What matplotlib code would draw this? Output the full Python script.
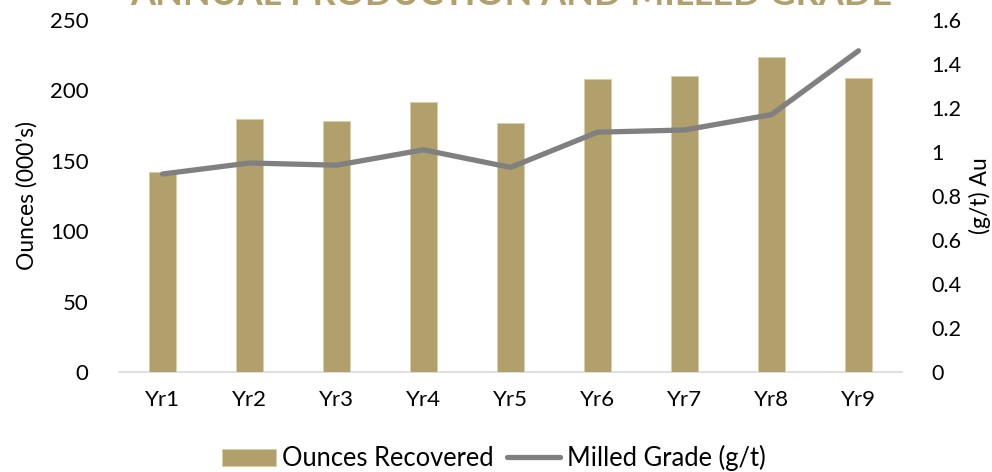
import matplotlib
matplotlib.use("Agg")
import matplotlib.pyplot as plt
import numpy as np

plt.rcParams['font.family'] = ['Lato', 'DejaVu Sans']

years = ["Yr1", "Yr2", "Yr3", "Yr4", "Yr5", "Yr6", "Yr7", "Yr8", "Yr9"]
ounces = [142, 180, 178, 192, 177, 208, 210, 224, 209]
grade = [0.90, 0.95, 0.94, 1.01, 0.93, 1.09, 1.10, 1.17, 1.46]
left_ticks = [0, 50, 100, 150, 200, 250]
right_ticks = [0, 0.2, 0.4, 0.6, 0.8, 1.0, 1.2, 1.4, 1.6]
right_labels = ["0", "0.2", "0.4", "0.6", "0.8", "1", "1.2", "1.4", "1.6"]

gold = "#B1A06B"
grey = "#808080"

W, H = 992, 472
fig = plt.figure(figsize=(W / 100, H / 100), dpi=100)
ax = fig.add_axes([119 / W, 1 - 372 / H, (902 - 119) / W, (372 - 20) / H])
x = np.arange(len(years))
ax.bar(x, ounces, width=0.31, color=gold, edgecolor="#D9CFA8", linewidth=0.6,
       label="Ounces Recovered", zorder=2)
ax.set_xlim(-0.5, len(years) - 0.5)
ax.set_ylim(0, 250)
ax.set_yticks(left_ticks)
ax.set_xticks(x)
ax.set_xticklabels(years)
for s in ax.spines.values():
    s.set_visible(False)
ax.axhline(0, color="#D9D9D9", linewidth=1.2, zorder=1, clip_on=False)
ax.tick_params(axis="both", length=0, labelsize=16, colors="black")
ax.tick_params(axis="y", pad=22)
ax.tick_params(axis="x", pad=13)
ax.set_ylabel("Ounces (000\u2019s)", fontsize=16.5)
ax.yaxis.set_label_coords((38 - 119) / 783, 0.5)

ax2 = ax.twinx()
ax2.plot(x, grade, color=grey, linewidth=3.8, solid_capstyle="round",
         solid_joinstyle="round", label="Milled Grade (g/t)", zorder=3)
ax2.set_ylim(0, 1.6)
ax2.set_yticks(right_ticks)
ax2.set_yticklabels(right_labels)
for s in ax2.spines.values():
    s.set_visible(False)
ax2.tick_params(axis="y", length=0, labelsize=15.5, pad=21)
ax2.set_ylabel("(g/t) Au", fontsize=16.5)
ax2.yaxis.set_label_coords((969 - 119) / 783, 0.5)

fig.text(511 / W, 1 - 5 / H, "ANNUAL PRODUCTION AND MILLED GRADE", color=gold,
         fontsize=26, fontweight="bold", ha="center", va="baseline")

h1, l1 = ax.get_legend_handles_labels()
h2, l2 = ax2.get_legend_handles_labels()
fig.legend(h1 + h2, l1 + l2, loc="center", bbox_to_anchor=(494 / W, 1 - 458 / H),
           ncol=2, frameon=False, fontsize=18.4, handlelength=2.1, handleheight=0.65,
           handletextpad=0.25, columnspacing=0.5, borderaxespad=0, borderpad=0)

fig.savefig("out.png", dpi=100)
